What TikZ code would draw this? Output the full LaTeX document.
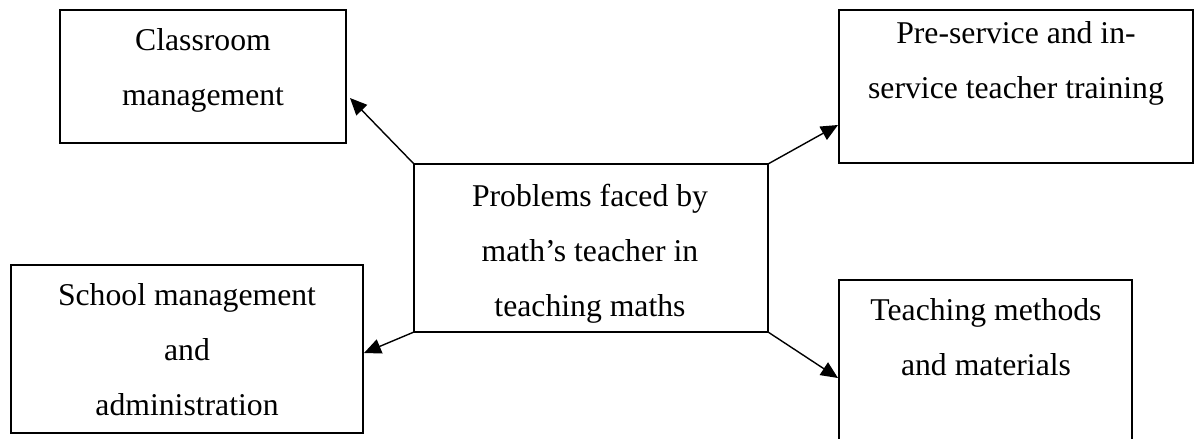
\documentclass[tikz,border=0pt]{standalone}
\usepackage{fontspec}
\setmainfont{Liberation Serif}
\usetikzlibrary{arrows.meta}
\begin{document}
\begin{tikzpicture}[x=1pt,y=-1pt,
  box/.style={draw,line width=1.6pt,inner sep=0pt,outer sep=0pt,rectangle},
  lbl/.style={align=center,inner sep=0pt,anchor=north,font=\fontsize{31.7}{55}\selectfont},
  link/.style={line width=1.4pt,-{Triangle[length=17pt,width=15pt]}}]
\useasboundingbox (0,0) rectangle (1194,439);
\clip (0,0) rectangle (1194,439);
\node[box,minimum width=286pt,minimum height=133pt] (cls) at (203,76.5) {};
\node[box,minimum width=354pt,minimum height=153pt] (pre) at (1016,86.5) {};
\node[box,minimum width=354pt,minimum height=168pt] (c) at (591,248) {};
\node[box,minimum width=352pt,minimum height=168pt] (sch) at (187,349) {};
\node[box,minimum width=293pt,minimum height=180pt] (tm) at (985.5,370) {};
\node[lbl] (tcls) at (203,28.5) {Classroom\\management};
\node[lbl] (tpre) at (1016,21.5) {Pre-service and in-\\service teacher training};
\node[lbl] (tc) at (590,183.5) {Problems faced by\\math’s teacher in\\teaching maths};
\node[lbl] (tsch) at (187,283.5) {School management\\and\\administration};
\node[lbl] (ttm) at (986,298.5) {Teaching methods\\and materials};
\draw[link] (c.north west) -- ([xshift=4pt,yshift=45pt]cls.south east);
\draw[link] (c.north east) -- ([xshift=-1pt,yshift=38pt]pre.south west);
\draw[link] (c.south west) -- ([xshift=1pt,yshift=-4pt]sch.east);
\draw[link] (c.south east) -- ([xshift=-1pt,yshift=-98pt]tm.north west);
\end{tikzpicture}
\end{document}
